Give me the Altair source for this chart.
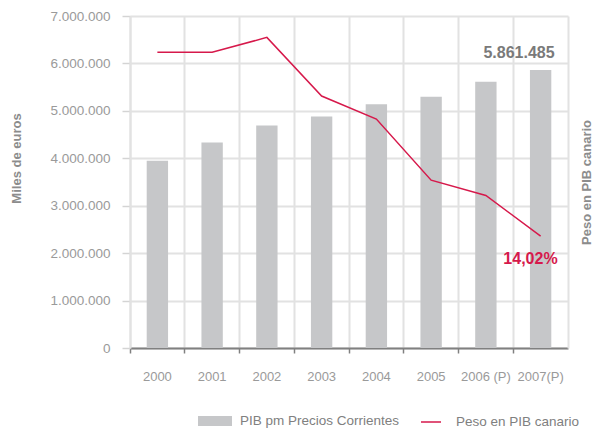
import altair as alt
import pandas as pd

years = ["2000", "2001", "2002", "2003", "2004", "2005", "2006 (P)", "2007(P)"]
pib = [3950000, 4335000, 4690000, 4880000, 5140000, 5300000, 5615000, 5861485]
peso = [23.98, 23.98, 24.79, 21.61, 20.36, 17.05, 16.22, 14.02]
serie_bar = "PIB pm Precios Corrientes"
serie_line = "Peso en PIB canario"

FONT = "Liberation Sans"
GRAY_BAR = "#c6c7c9"
RED = "#d6194b"
GRID = "#e2e2e2"

df = pd.DataFrame({
    "year": years,
    "pib": pib,
    "peso": peso,
    "s1": serie_bar,
    "s2": serie_line,
})
df["pib_label"] = [f"{v:,}".replace(",", ".") for v in pib]
df["peso_label"] = [f"{v:.2f}".replace(".", ",") + "%" for v in peso]

last = years[-1]

x_enc = alt.X(
    "year:N",
    sort=years,
    scale=alt.Scale(paddingInner=0, paddingOuter=0),
    title=None,
    axis=alt.Axis(
        bandPosition=0,
        grid=True,
        gridColor=GRID,
        gridWidth=2,
        domainColor="#808080",
        domainWidth=2,
        tickColor="#808080",
        tickWidth=1.5,
        tickSize=5,
        labelAngle=0,
        labelPadding=17,
        labelFont=FONT,
        labelFontSize=13,
        labelColor="#9a9a9a",
        labelAlign="center",
        labelBaseline="top",
    ),
)

y_left = alt.Y(
    "pib:Q",
    scale=alt.Scale(domain=[0, 7000000], nice=False),
    axis=alt.Axis(
        values=[0, 1000000, 2000000, 3000000, 4000000, 5000000, 6000000, 7000000],
        labelExpr="replace(format(datum.value, ','), regexp(',', 'g'), '.')",
        grid=True,
        gridColor=GRID,
        gridWidth=2,
        domainColor=GRID,
        domainWidth=2,
        tickColor="#d4d4d4",
        tickWidth=1.5,
        tickSize=8,
        labelPadding=12,
        labelFont=FONT,
        labelFontSize=13.5,
        labelColor="#9a9a9a",
        title="Miles de euros",
        titleFont=FONT,
        titleFontSize=13,
        titleFontWeight="bold",
        titleColor="#8c8c8c",
        titleAngle=270,
        titleBaseline="bottom",
        titleAlign="center",
        titleX=-107,
        titleY=142,
    ),
)

y_right = alt.Y(
    "peso:Q",
    scale=alt.Scale(domain=[7.95, 25.95], nice=False, zero=False),
    axis=alt.Axis(
        orient="right",
        labels=False,
        ticks=False,
        grid=False,
        domain=True,
        domainColor=GRID,
        domainWidth=2,
        title="Peso en PIB canario",
        titleFont=FONT,
        titleFontSize=13,
        titleFontWeight="bold",
        titleColor="#8c8c8c",
        titleAngle=270,
        titleBaseline="top",
        titleAlign="center",
        titleX=12,
        titleY=166,
    ),
)

base = alt.Chart(df)

bars = base.mark_bar(width=alt.RelativeBandSize(0.39)).encode(
    x=x_enc,
    y=y_left,
    color=alt.Color(
        "s1:N",
        scale=alt.Scale(domain=[serie_bar], range=[GRAY_BAR]),
        legend=alt.Legend(
            orient="none",
            legendX=68,
            legendY=388,
            title=None,
            padding=0,
            symbolType="M-1,-0.3L1,-0.3L1,0.3L-1,0.3Z",
            symbolSize=1156,
            symbolStrokeWidth=0,
            symbolOpacity=1,
            labelOffset=8,
            labelFont=FONT,
            labelFontSize=13.5,
            labelColor="#808080",
        ),
    ),
)

bar_text = base.mark_text(
    align="right", baseline="alphabetic", dx=14, dy=-12,
    font=FONT, fontSize=16, fontWeight="bold", color="#7a7a7a",
).encode(x=x_enc, y=y_left, text="pib_label:N").transform_filter(
    alt.datum.year == last
)

line = base.mark_line(strokeWidth=1.5).encode(
    x=x_enc,
    y=y_right,
    stroke=alt.Stroke(
        "s2:N",
        scale=alt.Scale(domain=[serie_line], range=[RED]),
        legend=alt.Legend(
            orient="none",
            legendX=290,
            legendY=395,
            title=None,
            padding=0,
            symbolType="stroke",
            symbolSize=400,
            symbolStrokeWidth=1.5,
            labelOffset=14,
            labelFont=FONT,
            labelFontSize=13.5,
            labelColor="#808080",
        ),
    ),
)

line_text = base.mark_text(
    align="right", baseline="alphabetic", dx=17, dy=28,
    font=FONT, fontSize=16, fontWeight="bold", color=RED,
).encode(x=x_enc, y=y_right, text="peso_label:N").transform_filter(
    alt.datum.year == last
)

left = alt.layer(bars, bar_text)
right = alt.layer(line, line_text)

chart = (
    alt.layer(left, right)
    .resolve_scale(y="independent", color="independent")
    .properties(
        width=438,
        height=332,
        autosize=alt.AutoSizeParams(type="none"),
        padding={"left": 122, "top": 8, "right": 25, "bottom": 80},
    )
    .configure_view(strokeWidth=0)
)

chart.save("out.html", embed_options={"renderer": "svg", "actions": False})
